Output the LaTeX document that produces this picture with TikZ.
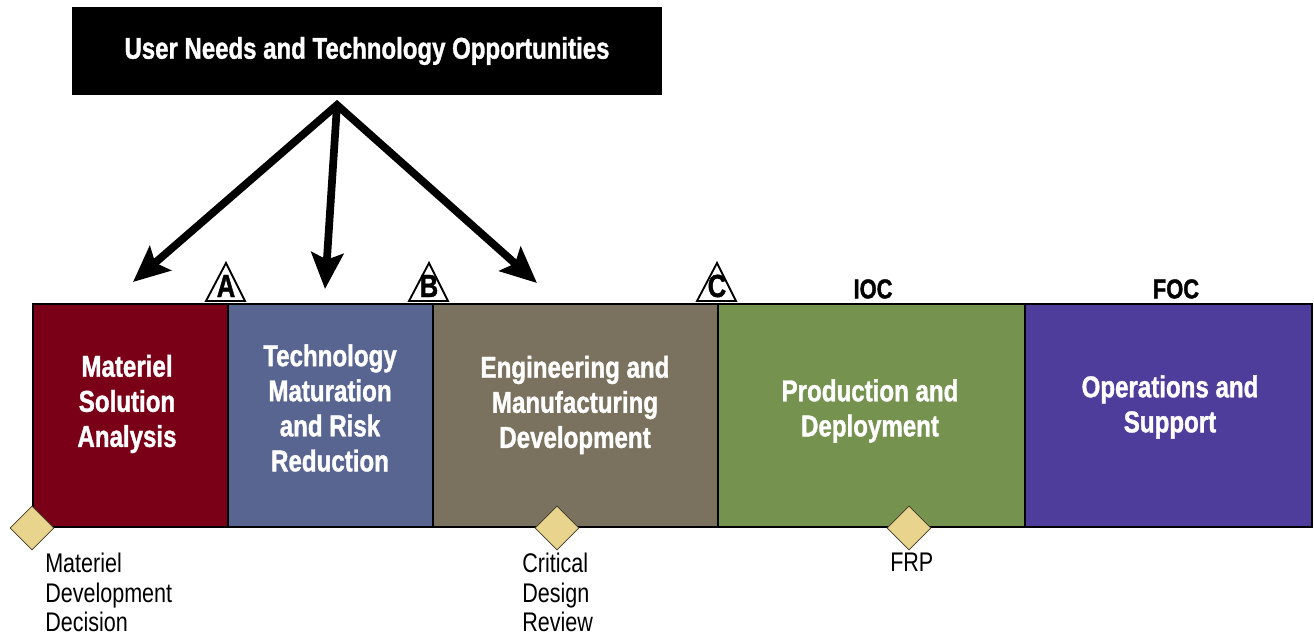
\documentclass[tikz,border=0pt]{standalone}
\usepackage{fontspec}
\setmainfont{Liberation Sans}[FakeStretch=0.8, BoldFeatures={FakeBold=1.2}]
\usetikzlibrary{arrows.meta,shapes.geometric}
\definecolor{msa}{RGB}{122,0,24}
\definecolor{tmrr}{RGB}{89,101,145}
\definecolor{emd}{RGB}{122,114,94}
\definecolor{pd}{RGB}{117,146,79}
\definecolor{os}{RGB}{79,61,156}
\definecolor{dia}{RGB}{232,212,140}
\definecolor{diaedge}{RGB}{60,55,40}
\tikzset{
  phase/.style={draw=black, line width=2pt},
  phasetext/.style={text=white, font=\bfseries\fontsize{22.6}{26.3}\selectfont, align=center, inner sep=0pt},
  bigarrow/.style={line width=5.8pt, miter limit=10, -{Stealth[length=27pt,width=24pt,inset=5pt]}},
  milestone/.style={fill=white, draw=black, line width=1.4pt, line join=miter},
  msletter/.style={font=\bfseries\fontsize{24}{26}\selectfont, inner sep=0pt},
  caplabel/.style={font=\bfseries\fontsize{20.5}{24}\selectfont, inner sep=0pt},
  decision/.style={diamond, fill=dia, draw=diaedge, line width=0.6pt, minimum size=33pt, inner sep=0pt},
  declabel/.style={font=\fontsize{20.2}{22.2}\selectfont, align=left, inner sep=0pt, anchor=north west},
}
\begin{document}
\begin{tikzpicture}[x=0.75pt,y=-0.75pt]
\useasboundingbox (0,0) rectangle (1314,635);

% top box
\node[fill=black, minimum width=442.5pt, minimum height=66pt, inner sep=0pt,
      text=white, font=\bfseries\fontsize{22.5}{26}\selectfont] (top) at (367,51) {User Needs and Technology Opportunities};

% phase boxes
\draw[phase, fill=msa]  (33,304) rectangle (228,527);
\draw[phase, fill=tmrr] (228,304) rectangle (433,527);
\draw[phase, fill=emd]  (433,304) rectangle (718,527);
\draw[phase, fill=pd]   (718,304) rectangle (1025,527);
\draw[phase, fill=os]   (1025,304) rectangle (1312,527);

\node[phasetext] (t1) at (127,404) {Materiel\\Solution\\Analysis};
\node[phasetext] (t2) at (330,408) {Technology\\Maturation\\and Risk\\Reduction};
\node[phasetext] (t3) at (575,405) {Engineering and\\Manufacturing\\Development};
\node[phasetext] (t4) at (870,411) {Production and\\Deployment};
\node[phasetext] (t5) at (1170,407) {Operations and\\Support};

% arrows
\coordinate (apex) at (337,105);
\coordinate (tipL) at (133,282);
\coordinate (tipM) at (325,289);
\coordinate (tipR) at (537,283);
\draw[bigarrow, {Stealth[length=27pt,width=24pt,inset=5pt]}-{Stealth[length=27pt,width=24pt,inset=5pt]}, line join=miter] (tipL) -- (apex) -- (tipR);
\draw[bigarrow] (apex) -- (tipM);

% milestones
\draw[milestone] (206,301) -- (226,263) -- (245,301) -- cycle;
\node[msletter] (A) at (226,286) {A};
\draw[milestone] (409,301) -- (429,263) -- (448,301) -- cycle;
\node[msletter] (B) at (429,286) {B};
\draw[milestone] (697,301) -- (717,263) -- (736,301) -- cycle;
\node[msletter] (C) at (717,286) {C};

\node[caplabel] (ioc) at (873,289) {IOC};
\node[caplabel] (foc) at (1176,289) {FOC};

% decision points
\node[decision] (mdd) at (32,528) {};
\node[decision] (cdr) at (557,528) {};
\node[decision] (frp) at (909,528) {};

\node[declabel] (mddl) at (45,553) {Materiel\\Development\\Decision};
\node[declabel] (cdrl) at (522,553) {Critical\\Design\\Review};
\node[declabel] (frpl) at (890,553) {FRP};
\end{tikzpicture}
\end{document}
